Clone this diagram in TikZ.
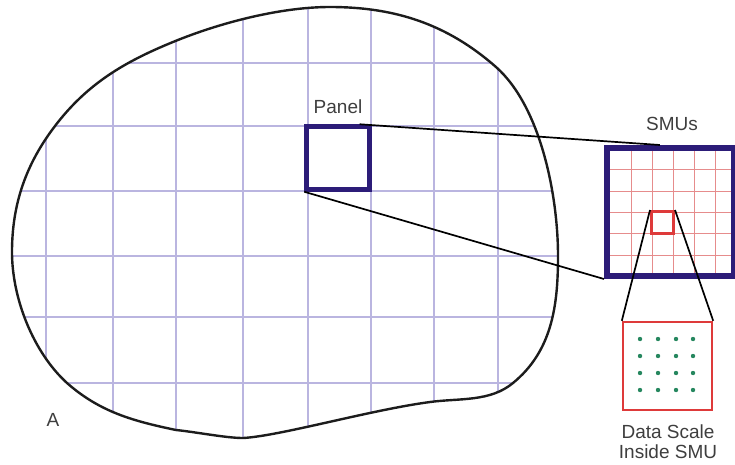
\documentclass[tikz,border=0pt]{standalone}
\usepackage{fontspec}
\setmainfont{Liberation Sans}
\usepackage{tikz}
\usetikzlibrary{calc,positioning}
\definecolor{ink}{RGB}{28,28,28}
\definecolor{navy}{RGB}{44,28,120}
\definecolor{lavender}{RGB}{186,181,224}
\definecolor{smured}{RGB}{222,58,58}
\definecolor{smuline}{RGB}{230,140,140}
\definecolor{dotgreen}{RGB}{38,135,95}
\definecolor{labelgray}{RGB}{62,62,62}

% outline of the area A (image pixel coordinates)
\newcommand\blobshape{(330,7) .. controls (395,7) and (447,24) .. (496,67)
  .. controls (541,107) and (558,196) .. (558,256)
  .. controls (558,306) and (552,351) .. (513,383)
  .. controls (490,402) and (460,398) .. (430,402)
  .. controls (370,410) and (280,436) .. (243,438)
  .. controls (226,438) and (196,432) .. (176,430)
  .. controls (133,421) and (100,412) .. (67,383)
  .. controls (33,352) and (12,298) .. (12,252)
  .. controls (12,204) and (26,164) .. (55,126)
  .. controls (87,84) and (124,62) .. (173,42)
  .. controls (219,23) and (280,7) .. (330,7) -- cycle}

\begin{document}
\begin{tikzpicture}[x=1pt,y=-1pt,
  gridline/.style={draw=lavender,line width=1.8pt},
  smugrid/.style={draw=smuline,line width=0.9pt},
  panelbox/.style={rectangle,draw=navy,line width=4.5pt,inner sep=0pt,minimum size=63pt},
  smubox/.style={rectangle,draw=navy,line width=6pt,inner sep=0pt,minimum width=127pt,minimum height=128pt},
  zoombox/.style={rectangle,draw=smured,inner sep=0pt},
  label/.style={font=\fontsize{19}{20}\selectfont,text=labelgray,align=center,inner sep=0pt},
  link/.style={draw=black,line width=1.7pt}
]
\useasboundingbox (0,0) rectangle (735,464);
% panel grid over the area
\begin{scope}
  \clip \blobshape;
  \foreach \gx in {46,113,176,243,308,371,434,498}
    \draw[gridline] (\gx,0) -- (\gx,464);
  \foreach \gy in {63,126,191,256,317,383}
    \draw[gridline] (0,\gy) -- (735,\gy);
\end{scope}
% area outline
\draw[ink,line width=2.4pt,line join=round] \blobshape;
% panel node
\node[panelbox] (panel) at (338,158) {};
% SMU grid
\foreach \sx in {631,652,673,694,715}
  \draw[smugrid] (\sx,148) -- (\sx,276);
\foreach \sy in {169,191,212,233,255}
  \draw[smugrid] (607,\sy) -- (734,\sy);
% SMU node
\node[smubox] (smu) at (670.5,212) {};
% single SMU node
\node[zoombox,line width=3pt,minimum size=22pt] (cell) at (662.5,222.5) {};
% data node
\node[zoombox,line width=2.4pt,minimum width=89pt,minimum height=88pt] (data) at (667.5,366) {};
% data points
\foreach \dx in {640,658,676,693}
  \foreach \dy in {339,356,373,390}
    \fill[dotgreen] (\dx,\dy) circle (2.2pt);
% connectors
\draw[link] ($(panel.north west)!0.82!(panel.north east)$) -- ($(smu.north west)!0.42!(smu.north east)$);
\draw[link] (panel.south west) -- (smu.south west);
\draw[link] (cell.north west) -- (data.north west);
\draw[link] (cell.north east) -- (data.north east);
% labels
\node[label] (panellabel) at (338,107) {Panel};
\node[label] (smulabel) at (672,124) {SMUs};
\node[label] (arealabel) at (53,420) {A};
\node[label] (datalabel) at (668,442) {Data Scale\\Inside SMU};
\end{tikzpicture}
\end{document}
